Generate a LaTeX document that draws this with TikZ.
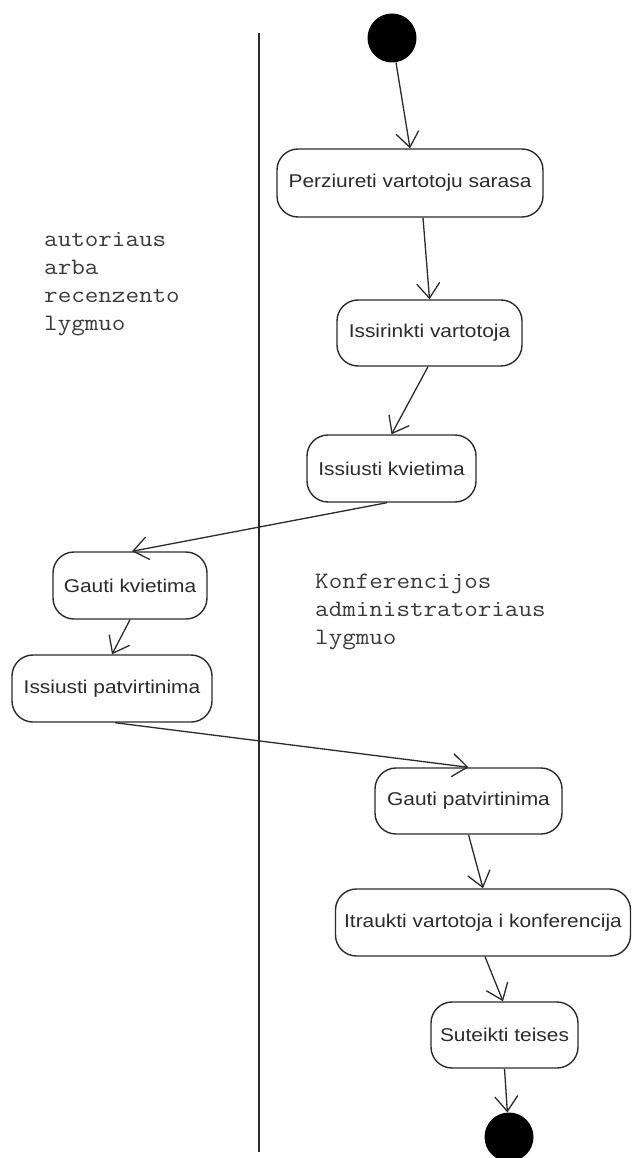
\documentclass[tikz,border=0pt]{standalone}
\usepackage{fontspec}
\setmainfont{Liberation Sans}
\newfontfamily\actfont[FakeStretch=1.13]{Liberation Sans}
\newfontfamily\lanefont[FakeStretch=1.12]{Latin Modern Mono}
\usetikzlibrary{arrows.meta}
\definecolor{ink}{HTML}{2B2B2B}
\definecolor{laneink}{HTML}{3A3A3A}
\begin{document}
\begin{tikzpicture}[x=1pt,y=-1pt,
  act/.style={draw=ink, line width=1.4pt, rounded corners=21pt, inner sep=0pt,
    font=\actfont\fontsize{18.5}{22}\selectfont, text=ink},
  dot/.style={circle, fill=black, draw=none, minimum size=49pt, inner sep=0pt},
  flow/.style={draw=ink, line width=1.3pt, -{Straight Barb[length=15pt,width=23pt,line width=1.3pt]}},
  lane/.style={font=\lanefont\fontsize{23.5}{28}\selectfont, text=laneink, align=left, inner sep=0pt}
]
\useasboundingbox (0,0) rectangle (632,1158);
\clip (0,0) rectangle (632,1158);

% swimlane divider
\coordinate (laneTop) at (259,33);
\coordinate (laneBot) at (259,1152);
\draw[ink, line width=1.4pt] (laneTop) -- (laneBot);

% lane captions
\node[lane, anchor=north west] (laneL) at (44,232) {autoriaus\\arba\\recenzento\\lygmuo};
\node[lane, anchor=north west] (laneR) at (315,574) {Konferencijos\\administratoriaus\\lygmuo};

% initial and final states
\node[dot] (start) at (392,38) {};
\node[dot] (finish) at (509,1137) {};

% activities
\node[act, minimum width=266pt, minimum height=68pt] (n1) at (410,183) {Perziureti vartotoju sarasa};
\node[act, minimum width=185pt, minimum height=66pt] (n2) at (429.5,333) {Issirinkti vartotoja};
\node[act, minimum width=169pt, minimum height=67pt] (n3) at (391.5,468.5) {Issiusti kvietima};
\node[act, minimum width=154pt, minimum height=67pt] (n4) at (130,585.5) {Gauti kvietima};
\node[act, minimum width=200pt, minimum height=67pt] (n5) at (112,688.5) {Issiusti patvirtinima};
\node[act, minimum width=187pt, minimum height=66pt] (n6) at (468.5,801) {Gauti patvirtinima};
\node[act, minimum width=295pt, minimum height=67pt] (n7) at (483,922.5) {Itraukti vartotoja i konferencija};
\node[act, minimum width=147pt, minimum height=66pt] (n8) at (504.5,1035) {Suteikti teises};

% transitions
\draw[flow] (start) -- (n1.north);
\draw[flow] ([xshift=13pt]n1.south) -- (n2.north);
\draw[flow] ([xshift=-1.5pt]n2.south) -- (n3.north);
\draw[flow] ([xshift=-4.5pt]n3.south) -- ([xshift=2pt]n4.north);
\draw[flow] (n4.south) -- (n5.north);
\draw[flow] ([xshift=3pt]n5.south) -- (n6.north);
\draw[flow] (n6.south) -- (n7.north);
\draw[flow] ([xshift=2pt]n7.south) -- ([xshift=-1.5pt]n8.north);
\draw[flow] (n8.south) -- (finish);
\end{tikzpicture}
\end{document}
